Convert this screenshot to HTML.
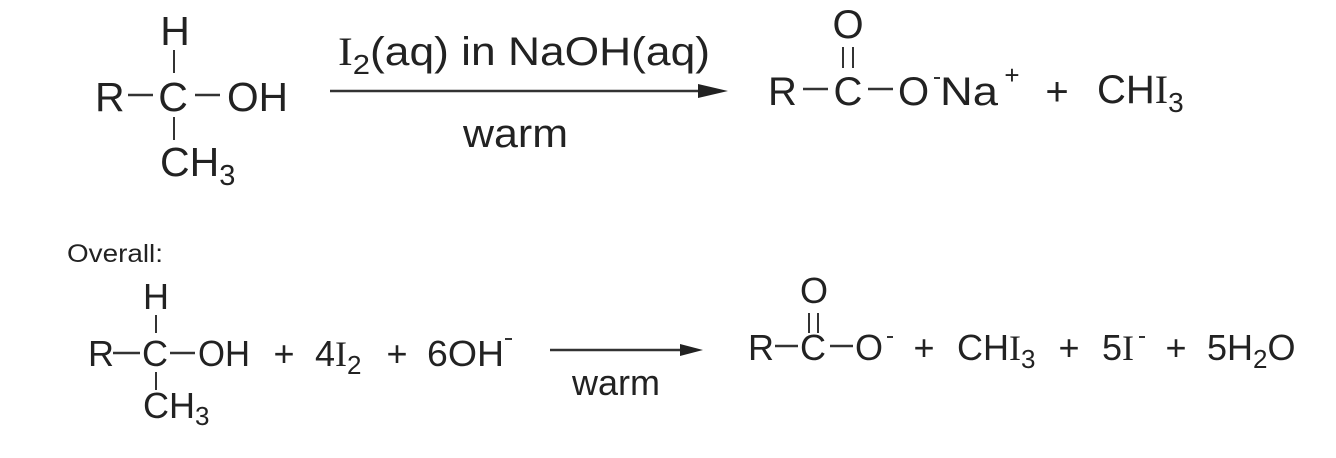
<!DOCTYPE html>
<html><head><meta charset="utf-8"><style>
html,body{margin:0;padding:0;background:#fff;}
svg{display:block;}
text{font-family:"Liberation Sans",Arial,sans-serif;fill:#222;}
.s{font-family:"Liberation Serif",serif;}
</style></head><body>
<svg width="1336" height="458" viewBox="0 0 1336 458" xmlns="http://www.w3.org/2000/svg">
<g stroke="#333">
<line x1="128" y1="95" x2="153" y2="95" stroke-width="2.5"/>
<line x1="195" y1="95" x2="220" y2="95" stroke-width="2.5"/>
<line x1="174" y1="50" x2="174" y2="73" stroke-width="2"/>
<line x1="174" y1="117" x2="174" y2="140" stroke-width="2"/>
<line x1="330" y1="91" x2="705" y2="91" stroke-width="2.5"/>
<line x1="803" y1="89" x2="828" y2="89" stroke-width="2.5"/>
<line x1="868" y1="89" x2="893" y2="89" stroke-width="2.5"/>
<line x1="843" y1="47" x2="843" y2="68" stroke-width="2"/>
<line x1="853" y1="47" x2="853" y2="68" stroke-width="2"/>
<line x1="934" y1="78" x2="940" y2="78" stroke-width="2"/>
<line x1="113" y1="353" x2="140" y2="353" stroke-width="2.5"/>
<line x1="170" y1="353" x2="195" y2="353" stroke-width="2.5"/>
<line x1="156" y1="315" x2="156" y2="333" stroke-width="2"/>
<line x1="156" y1="372" x2="156" y2="390" stroke-width="2"/>
<line x1="505" y1="339" x2="512" y2="339" stroke-width="2"/>
<line x1="550" y1="350" x2="685" y2="350" stroke-width="2.5"/>
<line x1="775" y1="346" x2="798" y2="346" stroke-width="2.5"/>
<line x1="830" y1="346" x2="853" y2="346" stroke-width="2.5"/>
<line x1="809" y1="313" x2="809" y2="333" stroke-width="2"/>
<line x1="818" y1="313" x2="818" y2="333" stroke-width="2"/>
<line x1="887" y1="337" x2="893" y2="337" stroke-width="2"/>
<line x1="1139" y1="337" x2="1145" y2="337" stroke-width="2"/>
</g>
<polygon points="728,91 698,84 698,98" fill="#222"/>
<polygon points="703,350 680,344 680,356" fill="#222"/>

<g font-size="41">
<text x="175" y="45" text-anchor="middle">H</text>
<text x="95" y="111">R</text>
<text x="173" y="111" text-anchor="middle">C</text>
<text x="227" y="111" textLength="61" lengthAdjust="spacingAndGlyphs">OH</text>
<text x="160" y="176">CH<tspan font-size="29" dy="9">3</tspan></text>
</g>
<g font-size="40">
<text x="338" y="65" textLength="372" lengthAdjust="spacingAndGlyphs"><tspan class="s">I</tspan><tspan font-size="28" dy="9">2</tspan><tspan dy="-9">(aq) in NaOH(aq)</tspan></text>
<text x="463" y="147" textLength="105" lengthAdjust="spacingAndGlyphs">warm</text>
<text x="848" y="38" text-anchor="middle">O</text>
<text x="768" y="105">R</text>
<text x="848" y="105" text-anchor="middle">C</text>
<text x="898" y="105">O</text>
<text x="940" y="105" textLength="58" lengthAdjust="spacingAndGlyphs">Na</text>
<text x="1012" y="84" font-size="26" text-anchor="middle">+</text>
<text x="1057" y="105" text-anchor="middle">+</text>
<text x="1097" y="103">CH<tspan class="s">I</tspan><tspan font-size="28" dy="9">3</tspan></text>
</g>
<text x="67" y="262" font-size="25" textLength="96" lengthAdjust="spacingAndGlyphs">Overall:</text>
<g font-size="36">
<text x="156" y="309" text-anchor="middle">H</text>
<text x="88" y="366">R</text>
<text x="155" y="366" text-anchor="middle">C</text>
<text x="198" y="366" textLength="52" lengthAdjust="spacingAndGlyphs">OH</text>
<text x="143" y="418">CH<tspan font-size="26" dy="7">3</tspan></text>
<text x="284" y="366" text-anchor="middle">+</text>
<text x="315" y="366">4<tspan class="s">I</tspan><tspan font-size="26" dy="8">2</tspan></text>
<text x="397" y="366" text-anchor="middle">+</text>
<text x="427" y="366" textLength="77" lengthAdjust="spacingAndGlyphs">6OH</text>
<text x="572" y="395" textLength="88" lengthAdjust="spacingAndGlyphs">warm</text>
<text x="814" y="303" text-anchor="middle">O</text>
<text x="748" y="360">R</text>
<text x="813" y="360" text-anchor="middle">C</text>
<text x="855" y="360">O</text>
<text x="924" y="360" text-anchor="middle">+</text>
<text x="957" y="360">CH<tspan class="s">I</tspan><tspan font-size="26" dy="8">3</tspan></text>
<text x="1069" y="360" text-anchor="middle">+</text>
<text x="1102" y="360">5<tspan class="s">I</tspan></text>
<text x="1176" y="360" text-anchor="middle">+</text>
<text x="1207" y="360">5H<tspan font-size="26" dy="8">2</tspan><tspan dy="-8">O</tspan></text>
</g>
</svg>
</body></html>
